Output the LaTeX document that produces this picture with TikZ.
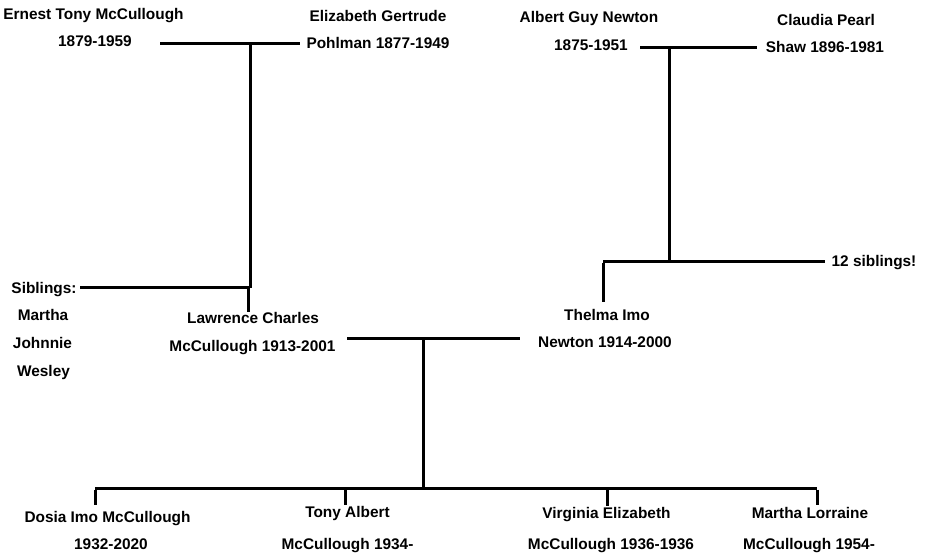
\documentclass[tikz,border=0pt]{standalone}
\usepackage{fontspec}
\setmainfont{Liberation Sans}
\begin{document}
\begin{tikzpicture}[x=1pt,y=-1pt,
  lbl/.style={anchor=base, inner sep=0pt, font=\fontsize{15.4}{18}\selectfont\bfseries},
  ln/.style={line width=3pt}]
\useasboundingbox[fill=white] (0,0) rectangle (929,556);
% --- texts ---
\node[lbl] (ernest1) at (93.5,20) {Ernest Tony McCullough};
\node[lbl] (ernest2) at (95,47) {1879-1959};
\node[lbl] (eliz1) at (378,22) {Elizabeth Gertrude};
\node[lbl] (eliz2) at (378,49) {Pohlman 1877-1949};
\node[lbl] (albert1) at (589,23) {Albert Guy Newton};
\node[lbl] (albert2) at (591,51) {1875-1951};
\node[lbl] (claudia1) at (826,26) {Claudia Pearl};
\node[lbl] (claudia2) at (825,53) {Shaw 1896-1981};
\node[lbl] (sib) at (44,293) {Siblings:};
\node[lbl] (sibA) at (43,320) {Martha};
\node[lbl] (sibB) at (42.5,348) {Johnnie};
\node[lbl] (sibC) at (43.5,376) {Wesley};
\node[lbl] (law1) at (253,323) {Lawrence Charles};
\node[lbl] (law2) at (252.5,351) {McCullough 1913-2001};
\node[lbl] (twelve) at (874,266) {12 siblings!};
\node[lbl] (thelma1) at (607,320) {Thelma Imo};
\node[lbl] (thelma2) at (605,347) {Newton 1914-2000};
\node[lbl] (dosia1) at (107.5,522) {Dosia Imo McCullough};
\node[lbl] (dosia2) at (111,549) {1932-2020};
\node[lbl] (tony1) at (347.5,517) {Tony Albert};
\node[lbl] (tony2) at (347.5,549) {McCullough 1934-};
\node[lbl] (virg1) at (606.5,518) {Virginia Elizabeth};
\node[lbl] (virg2) at (611,549) {McCullough 1936-1936};
\node[lbl] (mar1) at (810,518) {Martha Lorraine};
\node[lbl] (mar2) at (809,549) {McCullough 1954-};
% --- junction coordinates ---
\coordinate (c1L) at (160,44);
\coordinate (c1R) at (300,44);
\coordinate (c1M) at (250,44);
\coordinate (s1L) at (80,287.5);
\coordinate (s1M) at (250,287.5);
\coordinate (s1D) at (248,287.5);
\coordinate (lawTop) at (248,312);
\coordinate (c2L) at (640,48);
\coordinate (c2R) at (757,48);
\coordinate (c2M) at (669,48);
\coordinate (s2M) at (669,261);
\coordinate (s2L) at (603,261);
\coordinate (s2R) at (825,261);
\coordinate (thTop) at (603,302);
\coordinate (c3L) at (347,338);
\coordinate (c3R) at (520,338);
\coordinate (c3M) at (423,338);
\coordinate (b3M) at (423,488);
\coordinate (bL) at (95,488);
\coordinate (bR) at (817,488);
\coordinate (bT) at (345,488);
\coordinate (bV) at (607,488);
\coordinate (dTop) at (95,505);
\coordinate (tTop) at (345,505);
\coordinate (vTop) at (607,506);
\coordinate (mTop) at (817,505);
% --- connectors ---
\draw[ln] (c1L) -- (c1R);
\draw[ln] (c1M) -- (s1M);
\draw[ln] (s1L) -- (s1M);
\draw[ln] (s1D) -- (lawTop);
\draw[ln] (c2L) -- (c2R);
\draw[ln] (c2M) -- (s2M);
\draw[ln] (s2L) -- (s2R);
\draw[ln] ([yshift=-1.5pt]s2L) -- (thTop);
\draw[ln] (c3L) -- (c3R);
\draw[ln] (c3M) -- (b3M);
\draw[ln] (bL) -- (bR);
\draw[ln] ([yshift=-1.5pt]bL) -- (dTop);
\draw[ln] (bT) -- (tTop);
\draw[ln] (bV) -- (vTop);
\draw[ln] ([yshift=-1.5pt]bR) -- (mTop);
\end{tikzpicture}
\end{document}
